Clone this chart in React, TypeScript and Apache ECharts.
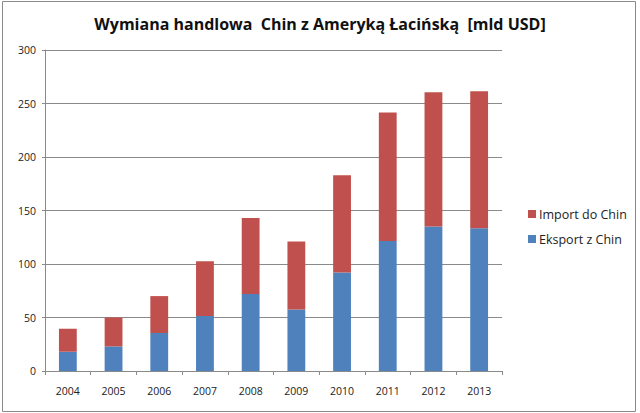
import React, { useEffect, useRef } from "react";
import * as echarts from "echarts";

const categories = ["2004", "2005", "2006", "2007", "2008", "2009", "2010", "2011", "2012", "2013"];
const eksport = [18, 23, 35.5, 51.5, 72, 57.5, 92, 121.5, 135, 133.5];
const importData = [21.5, 27, 34.5, 51, 71, 63.5, 91, 120, 125.5, 128];
const yTicks = { min: 0, max: 300, interval: 50 };

export default function App() {
  const ref = useRef<HTMLDivElement>(null);
  useEffect(() => {
    document.body.style.margin = "0";
    const chart = echarts.init(ref.current!, null, { renderer: "svg" });
    const font = "Open Sans, Noto Sans, sans-serif";
    chart.setOption({
      animation: false,
      backgroundColor: "#ffffff",
      title: {
        text: "Wymiana handlowa  Chin z Ameryką Łacińską  [mld USD]",
        left: "center",
        top: 11,
        textStyle: { fontFamily: font, fontSize: 16, fontWeight: "bold", color: "#111" },
      },
      graphic: [
        {
          type: "rect",
          shape: { x: 2.5, y: 1.5, width: 633, height: 410 },
          style: { fill: "none", stroke: "#8a8a8a", lineWidth: 1 },
          silent: true,
        },
      ],
      legend: {
        orient: "vertical",
        left: 523,
        top: 201,
        itemWidth: 8,
        itemHeight: 8,
        itemGap: 9,
        icon: "rect",
        data: ["Import do Chin", "Eksport z Chin"],
        textStyle: { fontFamily: font, fontSize: 12.5, color: "#222", lineHeight: 16, padding: [0, 0, 0, -2] },
      },
      grid: { left: 45, right: 138, top: 50, bottom: 42, containLabel: false },
      xAxis: {
        type: "category",
        data: categories,
        axisLine: { lineStyle: { color: "#8a8a8a" } },
        axisTick: { show: true, length: 4, lineStyle: { color: "#8a8a8a" } },
        axisLabel: { fontFamily: font, fontSize: 10.5, color: "#222", margin: 14 },
      },
      yAxis: {
        type: "value",
        min: yTicks.min,
        max: yTicks.max,
        interval: yTicks.interval,
        axisLine: { show: true, lineStyle: { color: "#8a8a8a" } },
        axisTick: { show: true, length: 3, lineStyle: { color: "#8a8a8a" } },
        axisLabel: { fontFamily: font, fontSize: 10.5, color: "#222", margin: 9 },
        splitLine: { lineStyle: { color: "#8a8a8a" } },
      },
      series: [
        {
          name: "Eksport z Chin",
          type: "bar",
          stack: "total",
          data: eksport,
          barWidth: "39%",
          itemStyle: { color: "#4F81BD" },
        },
        {
          name: "Import do Chin",
          type: "bar",
          stack: "total",
          data: importData,
          barWidth: "39%",
          itemStyle: { color: "#C0504D" },
        },
      ],
    });
    return () => chart.dispose();
  }, []);
  return <div ref={ref} style={{ width: 640, height: 413 }} />;
}
